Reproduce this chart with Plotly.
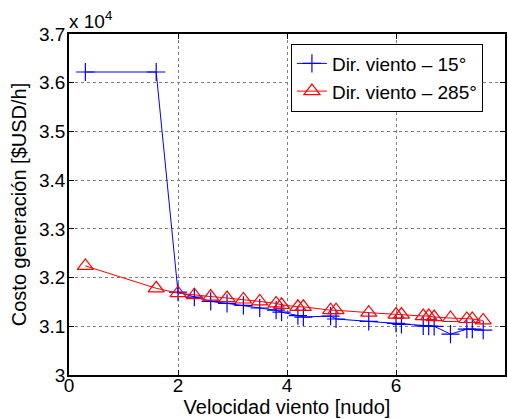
import plotly.graph_objects as go

speed = [0.3, 1.6, 2.0, 2.3, 2.6, 2.9, 3.2, 3.5, 3.8, 3.9, 4.2, 4.3, 4.8, 4.9,
         5.5, 6.0, 6.1, 6.5, 6.6, 6.7, 7.0, 7.3, 7.4, 7.6]
cost_15 = [36220, 36220, 31700, 31600, 31510, 31470, 31430, 31375, 31330, 31290,
           31220, 31190, 31210, 31150, 31100, 31060, 31040, 31010, 31005, 31000,
           30840, 30940, 30940, 30920]
cost_285 = [32240, 31780, 31680, 31640, 31610, 31580, 31550, 31510, 31470, 31440,
            31400, 31400, 31330, 31330, 31280, 31240, 31240, 31210, 31210, 31190,
            31170, 31150, 31150, 31120]
y_ticks = [30000, 31000, 32000, 33000, 34000, 35000, 36000, 37000]
y_labels = ["3", "3.1", "3.2", "3.3", "3.4", "3.5", "3.6", "3.7"]
x_ticks = [0, 2, 4, 6, 8]

FONT = "Liberation Sans, Arial, Helvetica, sans-serif"

fig = go.Figure()
fig.add_trace(go.Scatter(
    x=speed, y=cost_15, mode="lines+markers", name="Dir. viento \u2013 15\u00b0",
    line=dict(color="#0000ff", width=1),
    marker=dict(symbol="cross-thin-open", size=13, line=dict(color="#0000ff", width=1.2)),
))
fig.add_trace(go.Scatter(
    x=speed, y=cost_285, mode="lines+markers", name="Dir. viento \u2013 285\u00b0",
    line=dict(color="#ff0000", width=1),
    marker=dict(symbol="triangle-up-open", size=14, color="#ff0000",
                line=dict(color="#ff0000", width=1.2)),
))

axis_common = dict(
    showline=True, linecolor="black", linewidth=1.5, mirror="ticks",
    ticks="inside", ticklen=5, tickcolor="black", tickwidth=1,
    showgrid=True, gridcolor="#7f7f7f", griddash="dot", gridwidth=1,
    zeroline=False, tickfont=dict(family=FONT, size=19, color="black"),
)

fig.update_xaxes(range=[0, 8], tickvals=x_ticks, ticktext=[str(v) for v in x_ticks],
                 ticklabelstandoff=-8,
                 title=dict(text="Velocidad viento [nudo]", font=dict(family=FONT, size=20, color="black"),
                            standoff=0),
                 **axis_common)
fig.update_yaxes(range=[30000, 37000], tickvals=y_ticks, ticktext=y_labels,
                 ticklabelstandoff=-2,
                 title=dict(text="Costo generación [$USD/h]", font=dict(family=FONT, size=20, color="black"),
                            standoff=7),
                 **axis_common)

fig.add_annotation(text="x 10<sup>4</sup>", xref="paper", yref="paper", x=0, y=1,
                   xanchor="left", yanchor="bottom", showarrow=False, yshift=0, xshift=-2,
                   font=dict(family=FONT, size=19, color="black"))

fig.update_layout(
    width=508, height=419,
    margin=dict(l=69, r=1, t=34, b=44),
    plot_bgcolor="white", paper_bgcolor="white",
    legend=dict(x=0.509, y=0.972, xanchor="left", yanchor="top",
                bordercolor="black", borderwidth=1, bgcolor="white",
                font=dict(family=FONT, size=19, color="black"),
                tracegroupgap=0, itemwidth=30),
    showlegend=True,
)

fig.write_html("out.html")
